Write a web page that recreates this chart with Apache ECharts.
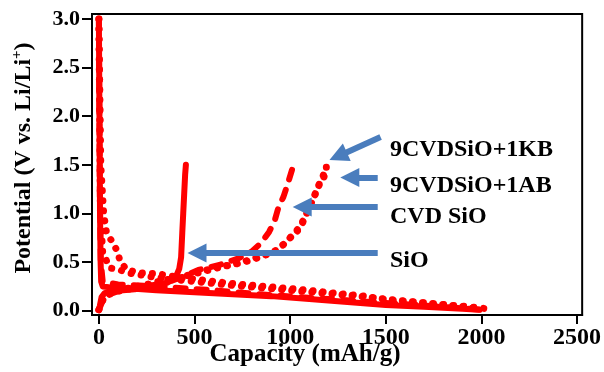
<!DOCTYPE html>
<html><head><meta charset="utf-8">
<script src="https://cdn.jsdelivr.net/npm/echarts@6/dist/echarts.min.js"></script>
<style>html,body{margin:0;padding:0;background:#fff}#c{width:604px;height:372px}</style>
</head><body><div id="c"></div>
<script>
// tick labels
const xTicks = [0, 500, 1000, 1500, 2000, 2500];
const yTicks = [0, 0.5, 1.0, 1.5, 2.0, 2.5, 3.0];

// SiO (solid)
const sioDischarge = [[0,3.0],[3,2.0],[6,1.0],[9,0.5],[12,0.3],[20,0.25],[60,0.24],[150,0.23],[300,0.21],[500,0.19],[700,0.17],[900,0.15],[1100,0.12],[1300,0.09],[1500,0.06],[1700,0.04],[1900,0.02],[1990,0.01]];
const sioCharge = [[0,0.01],[5,0.05],[14,0.14],[30,0.18],[66,0.2],[187,0.22],[300,0.26],[360,0.29],[384,0.32],[405,0.36],[420,0.43],[430,0.55],[436,0.8],[441,1.0],[446,1.2],[451,1.4],[455,1.5]];

// CVD SiO (dashed)
const cvdDischarge = [[0,3.0],[5,1.2],[10,0.5],[20,0.3],[100,0.27],[300,0.25],[600,0.21],[900,0.16],[1200,0.12],[1500,0.08],[1800,0.04],[2000,0.01]];
const cvdCharge = [[0,0.01],[30,0.15],[100,0.2],[250,0.25],[370,0.30],[440,0.35],[520,0.42],[630,0.47],[730,0.54],[800,0.61],[850,0.70],[890,0.81],[920,0.93],[940,1.07],[965,1.17],[990,1.32],[1010,1.45]];

// 9CVDSiO+1KB (dotted)
const kbDischarge = [[0,3.0],[10,1.5],[25,1.0],[40,0.8],[73,0.70],[99,0.60],[109,0.52],[145,0.42],[213,0.39],[306,0.38],[400,0.35],[524,0.32],[695,0.28],[1043,0.22],[1389,0.15],[1509,0.11],[1769,0.07],[1992,0.03],[2059,0.01]];
const kbCharge = [[0,0.01],[30,0.16],[100,0.21],[250,0.27],[330,0.31],[440,0.35],[520,0.40],[630,0.45],[730,0.49],[800,0.53],[860,0.57],[920,0.61],[965,0.68],[1000,0.75],[1043,0.83],[1070,0.92],[1085,0.99],[1100,1.07],[1120,1.16],[1136,1.21],[1155,1.31],[1172,1.35],[1188,1.43],[1190,1.5]];

// 9CVDSiO+1AB (dotted)
const abDischarge = [[0,3.0],[8,1.0],[20,0.6],[57,0.44],[109,0.42],[145,0.39],[213,0.37],[300,0.34],[500,0.30],[700,0.26],[1000,0.21],[1300,0.16],[1600,0.10],[1800,0.06],[2000,0.02]];
const abCharge = [[0,0.01],[30,0.15],[100,0.2],[250,0.26],[340,0.31],[450,0.35],[540,0.40],[640,0.45],[740,0.49],[810,0.53],[870,0.57],[925,0.62],[970,0.69],[1005,0.76],[1045,0.85],[1072,0.94],[1090,1.02],[1110,1.10],[1128,1.19],[1145,1.27],[1160,1.34],[1180,1.42]];

// annotation arrows: [tail, head] in data units, and labels
const arrowKB = [[1473,1.787],[1251,1.589]];
const arrowAB = [[1458,1.370],[1312,1.370]];
const arrowCVD = [[1458,1.067],[1063,1.067]];
const arrowSiO = [[1458,0.594],[513,0.594]];
const labelNames = ['9CVDSiO+1KB','9CVDSiO+1AB','CVD SiO','SiO'];

const RED = '#ff0000', BLUE = '#4a7dbd', FONT = '"Liberation Serif","Times New Roman",serif';

function solid(d){return {type:'line',data:d,symbol:'none',silent:true,animation:false,
  lineStyle:{color:RED,width:6,cap:'round',join:'round'}};}
function dashed(d){return {type:'line',data:d,symbol:'none',silent:true,animation:false,
  lineStyle:{color:RED,width:6,type:[10,11],cap:'round',join:'round'}};}
function dotted(d){return {type:'line',data:d,symbol:'none',silent:true,animation:false,
  lineStyle:{color:RED,width:7,type:[0.1,10],cap:'round',join:'round'}};}

function arrow(a){return [{coord:a[0]},{coord:a[1]}];}

const chart = echarts.init(document.getElementById('c'), null, {renderer:'canvas'});
chart.setOption({
  animation:false,
  grid:{left:92,right:18,top:14,bottom:57,show:true,borderColor:'#000',borderWidth:2,backgroundColor:'transparent'},
  xAxis:{type:'value',min:-36,max:2527,
    axisLine:{show:true,onZero:false,lineStyle:{color:'#000',width:2}},
    axisTick:{show:true,customValues:xTicks,length:9,lineStyle:{color:'#000',width:2}},
    axisLabel:{customValues:xTicks,margin:11,color:'#000',fontFamily:FONT,fontWeight:'bold',fontSize:24,
      formatter:v=>String(v)},
    splitLine:{show:false}},
  yAxis:{type:'value',min:-0.044,max:3.051,
    axisLine:{show:true,onZero:false,lineStyle:{color:'#000',width:2}},
    axisTick:{show:true,customValues:yTicks,length:10,lineStyle:{color:'#000',width:2}},
    axisLabel:{customValues:yTicks,margin:12,color:'#000',fontFamily:FONT,fontWeight:'bold',fontSize:22,
      formatter:v=>v.toFixed(1)},
    splitLine:{show:false}},
  series:[
    dotted(abDischarge), dotted(abCharge),
    dotted(kbDischarge), dotted(kbCharge),
    dashed(cvdDischarge), dashed(cvdCharge),
    solid(sioDischarge), solid(sioCharge),
    {type:'line',data:[],silent:true,animation:false,
     markLine:{silent:true,animation:false,symbol:['none','triangle'],symbolSize:19,
       label:{show:false},lineStyle:{color:BLUE,width:6,type:'solid'},
       itemStyle:{color:BLUE},emphasis:{disabled:true},
       data:[arrow(arrowKB),arrow(arrowAB),arrow(arrowCVD),arrow(arrowSiO)]}}
  ],
  graphic:[
    {type:'text',x:390,y:150,style:{text:labelNames[0],font:'bold 24px '+FONT,fill:'#000',align:'left',verticalAlign:'middle'}},
    {type:'text',x:390,y:186,style:{text:labelNames[1],font:'bold 24px '+FONT,fill:'#000',align:'left',verticalAlign:'middle'}},
    {type:'text',x:390,y:217,style:{text:labelNames[2],font:'bold 24px '+FONT,fill:'#000',align:'left',verticalAlign:'middle'}},
    {type:'text',x:390,y:261,style:{text:labelNames[3],font:'bold 24px '+FONT,fill:'#000',align:'left',verticalAlign:'middle'}},
    {type:'text',x:305,y:355,style:{text:'Capacity (mAh/g)',font:'bold 25px '+FONT,fill:'#000',align:'center',verticalAlign:'middle'}},
    {type:'text',x:23,y:158,rotation:Math.PI/2,style:{
      text:'{a|Potential (V vs. Li/Li}{s|+}{a|)}',align:'center',verticalAlign:'middle',fill:'#000',
      rich:{a:{font:'bold 24px '+FONT,fill:'#000',lineHeight:26,verticalAlign:'bottom'},
            s:{font:'bold 15px '+FONT,fill:'#000',lineHeight:14,verticalAlign:'top'}}}}
  ]
});
</script></body></html>
